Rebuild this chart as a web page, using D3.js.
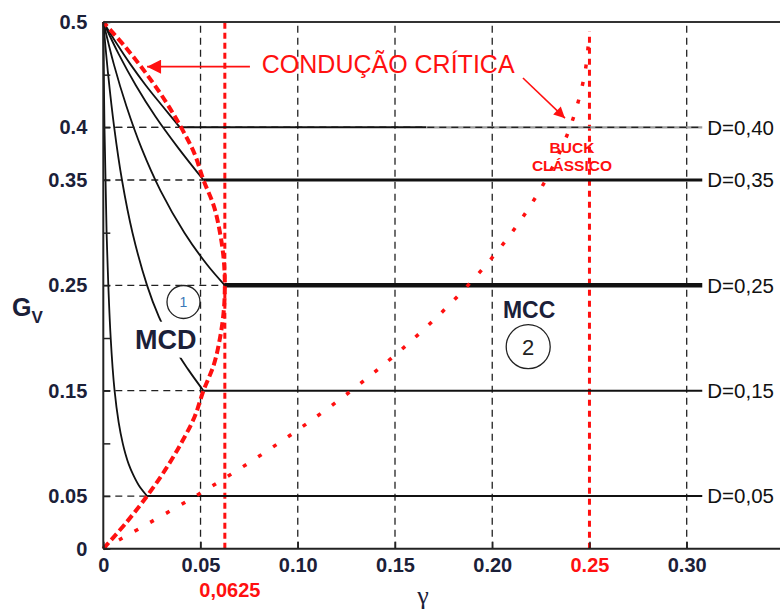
<!DOCTYPE html>
<html>
<head>
<meta charset="utf-8">
<script src="https://cdn.jsdelivr.net/npm/d3@7"></script>
<style>
body { margin: 0; background: #fff; }
svg { display: block; font-family: "Liberation Sans", Arial, sans-serif; }
</style>
</head>
<body>
<div id="chart"></div>
<script>
// values
const xTicks = [0, 0.05, 0.10, 0.15, 0.20, 0.30];
const xTickLabels = ["0", "0.05", "0.10", "0.15", "0.20", "0.30"];
const yTicks = [0, 0.05, 0.15, 0.25, 0.35, 0.4, 0.5];
const yTickLabels = ["0", "0.05", "0.15", "0.25", "0.35", "0.4", "0.5"];
const yMinorTicks = [0.1, 0.2, 0.3, 0.45];
const xGrid = [0.05, 0.10, 0.15, 0.20, 0.30];
const redMarks = [0.0625, 0.25];
const redMarkLabels = ["0,0625", "0.25"];

const duty = [0.05, 0.15, 0.25, 0.35, 0.40];
const dutyLabels = ["D=0,05", "D=0,15", "D=0,25", "D=0,35", "D=0,40"];
const critGamma = [0.0225, 0.0515, 0.0625, 0.0515, 0.0394];
const ccmEnd = 0.308;

// MCD curves, [gamma, Gv]
const mcd005 = [[0, 0.5], [0.0006, 0.4], [0.0017, 0.3], [0.0038, 0.2], [0.0058, 0.15], [0.0079, 0.12], [0.01, 0.1], [0.0114, 0.09], [0.0131, 0.08], [0.0154, 0.07], [0.0183, 0.06], [0.0225, 0.05]];
const mcd015 = [[0, 0.5], [0.0025, 0.45], [0.0056, 0.4], [0.0096, 0.35], [0.015, 0.3], [0.0225, 0.25], [0.0286, 0.22], [0.0367, 0.19], [0.0437, 0.17], [0.0515, 0.15]];
const mcd025 = [[0, 0.5], [0.0054, 0.46], [0.0119, 0.42], [0.0197, 0.38], [0.0294, 0.34], [0.0417, 0.3], [0.0532, 0.27], [0.0625, 0.25]];
const mcd035 = [[0, 0.5], [0.0078, 0.47], [0.0167, 0.44], [0.0269, 0.41], [0.0387, 0.38], [0.0515, 0.35]];
const mcd040 = [[0, 0.5], [0.0067, 0.48], [0.0139, 0.46], [0.0218, 0.44], [0.0305, 0.42], [0.0394, 0.4]];

// critical conduction boundary, [gamma, Gv]
const critical = [[0, 0], [0.0119, 0.025], [0.0225, 0.05], [0.0319, 0.075], [0.04, 0.1], [0.0469, 0.125], [0.0515, 0.15], [0.0569, 0.175], [0.06, 0.2], [0.0619, 0.225], [0.0625, 0.25], [0.0619, 0.275], [0.06, 0.3], [0.0569, 0.325], [0.0515, 0.35], [0.0469, 0.375], [0.04, 0.4], [0.0319, 0.425], [0.0225, 0.45], [0.0119, 0.475], [0, 0.5]];
// classic buck boundary
const buckClassic = [[0, 0], [0.0475, 0.05], [0.09, 0.1], [0.1275, 0.15], [0.16, 0.2], [0.1875, 0.25], [0.21, 0.3], [0.2275, 0.35], [0.24, 0.4], [0.2475, 0.45], [0.2499, 0.49]];

const mcdCurves = [mcd005, mcd015, mcd025, mcd035, mcd040];
const ccmWidths = [2, 2, 4.5, 3, 2];

const width = 780, height = 614;
const margin = { top: 22, left: 103.3 };
const innerWidth = 583.4;   // gamma 0 .. 0.30
const innerHeight = 526.7;  // Gv 0 .. 0.5
const navy = "#1b2038";
const red = "#ff1010";

const x = d3.scaleLinear().domain([0, 0.30]).range([0, innerWidth]);
const y = d3.scaleLinear().domain([0, 0.5]).range([innerHeight, 0]);

const svg = d3.select('#chart').append('svg').attr('width', width).attr('height', height);
const defs = svg.append('defs');
const addArrow = (id, w, h) => defs.append('marker')
    .attr('id', id).attr('viewBox', '0 0 10 10').attr('refX', 10).attr('refY', 5)
    .attr('markerUnits', 'userSpaceOnUse').attr('markerWidth', w).attr('markerHeight', h)
    .attr('orient', 'auto')
    .append('path').attr('d', 'M0,0L10,5L0,10z').attr('fill', red);
addArrow('arrowBig', 20, 14);
addArrow('arrowSmall', 14, 11);

const chart = svg.append('g').attr('transform', `translate(${margin.left},${margin.top})`);
const line = d3.line().x(d => x(d[0])).y(d => y(d[1])).curve(d3.curveCatmullRom);

// dashed grid
chart.selectAll('.vgrid').data(xGrid).enter().append('line')
    .attr('x1', d => x(d)).attr('x2', d => x(d)).attr('y1', y(0)).attr('y2', y(0.5))
    .attr('stroke', '#222').attr('stroke-width', 1.3).attr('stroke-dasharray', '7,5');
chart.selectAll('.hgrid').data(duty).enter().append('line')
    .attr('x1', x(0)).attr('x2', (d, i) => d === 0.40 ? x(ccmEnd) : x(critGamma[i]))
    .attr('y1', d => y(d)).attr('y2', d => y(d))
    .attr('stroke', '#222').attr('stroke-width', 1.3).attr('stroke-dasharray', '7,5');

// red vertical markers
chart.append('line').attr('x1', x(redMarks[0])).attr('x2', x(redMarks[0]))
    .attr('y1', y(0)).attr('y2', y(0.5))
    .attr('stroke', red).attr('stroke-width', 3).attr('stroke-dasharray', '6,4');
chart.append('line').attr('x1', x(redMarks[1])).attr('x2', x(redMarks[1]))
    .attr('y1', y(0)).attr('y2', y(0.491))
    .attr('stroke', red).attr('stroke-width', 3).attr('stroke-dasharray', '6,5');

// MCD curves
chart.selectAll('.mcd').data(mcdCurves).enter().append('path')
    .attr('d', line).attr('fill', 'none').attr('stroke', '#111').attr('stroke-width', 1.8);

// CCM horizontal lines
chart.append('line').attr('x1', x(0.166)).attr('x2', x(ccmEnd))
    .attr('y1', y(0.4)).attr('y2', y(0.4)).attr('stroke', '#9a9a9a').attr('stroke-width', 2.2);
chart.append('line').attr('x1', x(0)).attr('x2', x(ccmEnd))
    .attr('y1', y(0.4)).attr('y2', y(0.4))
    .attr('stroke', '#222').attr('stroke-width', 1.3).attr('stroke-dasharray', '7,5');
chart.selectAll('.ccm').data(duty).enter().append('line')
    .attr('x1', (d, i) => x(critGamma[i]))
    .attr('x2', d => d === 0.40 ? x(0.166) : x(ccmEnd))
    .attr('y1', d => y(d)).attr('y2', d => y(d))
    .attr('stroke', '#111').attr('stroke-width', (d, i) => ccmWidths[i]);
chart.selectAll('.dlabel').data(duty).enter().append('text')
    .attr('x', x(ccmEnd) + 5).attr('y', d => y(d)).attr('dy', '0.36em')
    .attr('font-size', 20.5).attr('fill', '#111').text((d, i) => dutyLabels[i]);

// red boundaries
chart.append('path').attr('d', line(critical)).attr('fill', 'none')
    .attr('stroke', red).attr('stroke-width', 4).attr('stroke-dasharray', '8,4');
chart.append('path').attr('d', line(buckClassic)).attr('fill', 'none')
    .attr('stroke', red).attr('stroke-width', 3.5).attr('stroke-dasharray', '4,14');

// axes
const xAxis = d3.axisBottom(x).tickValues(xTicks).tickFormat((d, i) => xTickLabels[i])
    .tickSizeInner(-7).tickSizeOuter(0).tickPadding(9);
const xAxisRed = d3.axisBottom(x).tickValues([redMarks[1]]).tickFormat(() => redMarkLabels[1])
    .tickSizeInner(-7).tickSizeOuter(0).tickPadding(9);
const yAxis = d3.axisLeft(y).tickValues(yTicks).tickFormat((d, i) => yTickLabels[i])
    .tickSizeInner(-7).tickSizeOuter(0).tickPadding(16);
const yMinor = d3.axisLeft(y).tickValues(yMinorTicks).tickSizeInner(-7).tickSizeOuter(0);

const styleAxis = (g, color) => {
    g.select('.domain').remove();
    g.attr('font-family', null).attr('font-size', 20).attr('font-weight', 'bold');
    g.selectAll('.tick line').attr('stroke', '#222').attr('stroke-width', 1.5);
    g.selectAll('.tick text').attr('fill', color);
};
chart.append('g').attr('transform', `translate(0,${innerHeight})`).call(xAxis).call(g => styleAxis(g, navy));
chart.append('g').attr('transform', `translate(0,${innerHeight})`).call(xAxisRed).call(g => styleAxis(g, red));
chart.append('g').call(yAxis).call(g => styleAxis(g, navy));
chart.append('g').call(yMinor).call(g => styleAxis(g, navy)).call(g => g.selectAll('.tick text').remove());

// frame lines
chart.append('line').attr('x1', 0).attr('x2', width - margin.left).attr('y1', y(0)).attr('y2', y(0))
    .attr('stroke', '#222').attr('stroke-width', 2);
chart.append('line').attr('x1', 0).attr('x2', width - margin.left).attr('y1', y(0.5)).attr('y2', y(0.5))
    .attr('stroke', '#333').attr('stroke-width', 1.8);
chart.append('line').attr('x1', 0).attr('x2', 0).attr('y1', y(0)).attr('y2', y(0.5))
    .attr('stroke', '#222').attr('stroke-width', 2);

chart.append('text').attr('x', x(redMarks[0]) + 5).attr('y', y(0) + 48)
    .attr('text-anchor', 'middle').attr('font-size', 20).attr('font-weight', 'bold')
    .attr('fill', red).text(redMarkLabels[0]);

// annotations
chart.append('line').attr('x1', x(0.0754)).attr('y1', y(0.4576)).attr('x2', x(0.0225)).attr('y2', y(0.4576))
    .attr('stroke', red).attr('stroke-width', 1.6).attr('marker-end', 'url(#arrowBig)');
chart.append('text').attr('x', x(0.0815)).attr('y', y(0.4513))
    .attr('font-size', 25).attr('fill', red).text('CONDUÇÃO CRÍTICA');
chart.append('line').attr('x1', x(0.2158)).attr('y1', y(0.4468)).attr('x2', x(0.2374)).attr('y2', y(0.4087))
    .attr('stroke', red).attr('stroke-width', 1.6).attr('marker-end', 'url(#arrowSmall)');
chart.append('text').attr('x', x(0.241)).attr('y', y(0.3757)).attr('text-anchor', 'middle')
    .attr('font-size', 15.5).attr('font-weight', 'bold').attr('fill', red).text('BUCK');
chart.append('text').attr('x', x(0.241)).attr('y', y(0.3586)).attr('text-anchor', 'middle')
    .attr('font-size', 15.5).attr('font-weight', 'bold').attr('fill', red).text('CLÁSSICO');

// region labels
chart.append('rect').attr('x', x(0.0147)).attr('y', y(0.2155)).attr('width', 66).attr('height', 36).attr('fill', '#fff');
chart.append('text').attr('x', x(0.0163)).attr('y', y(0.1896))
    .attr('font-size', 27).attr('font-weight', 'bold').attr('fill', navy).text('MCD');
chart.append('circle').attr('cx', x(0.04124)).attr('cy', y(0.2342)).attr('r', 16.5)
    .attr('fill', '#fff').attr('stroke', '#222').attr('stroke-width', 1.3);
chart.append('text').attr('x', x(0.04124)).attr('y', y(0.2342)).attr('dy', '0.36em').attr('text-anchor', 'middle')
    .attr('font-size', 14).attr('fill', '#3b78b8').text('1');
chart.append('text').attr('x', x(0.2055)).attr('y', y(0.219))
    .attr('font-size', 23).attr('font-weight', 'bold').attr('fill', navy).text('MCC');
chart.append('circle').attr('cx', x(0.2185)).attr('cy', y(0.1918)).attr('r', 22)
    .attr('fill', 'none').attr('stroke', '#222').attr('stroke-width', 1.3);
chart.append('text').attr('x', x(0.2185)).attr('y', y(0.1918)).attr('dy', '0.36em').attr('text-anchor', 'middle')
    .attr('font-size', 22).attr('fill', '#222').text('2');

// axis titles
const gv = svg.append('text').attr('x', 12).attr('y', 316).attr('font-weight', 'bold').attr('fill', navy);
gv.append('tspan').attr('font-size', 25).text('G');
gv.append('tspan').attr('font-size', 17).attr('dy', 7).text('V');
svg.append('text').attr('x', 423).attr('y', 604).attr('text-anchor', 'middle')
    .attr('font-family', '"Liberation Serif", serif').attr('font-size', 26).attr('fill', navy).text('γ');
</script>
</body>
</html>
